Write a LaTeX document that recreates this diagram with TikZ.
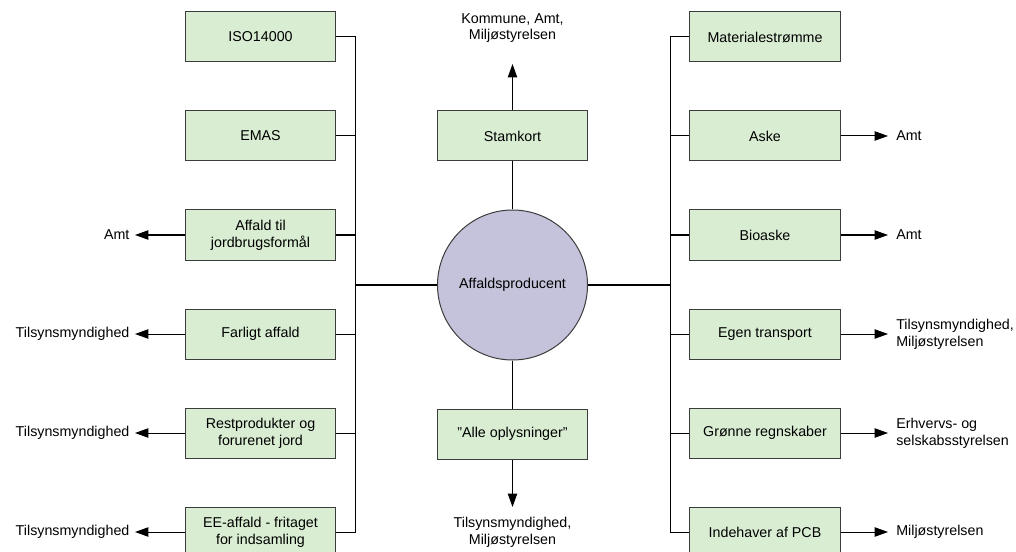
\documentclass[tikz,border=0pt]{standalone}
\usepackage{fontspec}
\setmainfont{Liberation Sans}
\usepackage{xcolor}
\usepackage{tikz}
\usetikzlibrary{arrows.meta}
\definecolor{boxgreen}{HTML}{D9EDD3}
\definecolor{hubviolet}{HTML}{C5C3DB}
\definecolor{edgegray}{HTML}{3C3C3C}

\begin{document}
\begin{tikzpicture}%
	[x=0.75pt, y=-0.75pt,
	font=\fontsize{10.7}{12.6}\selectfont,
	box/.style={draw=edgegray, fill=boxgreen, line width=0.75pt, minimum width=113pt, minimum height=37.5pt, inner sep=1pt, align=center},
	hub/.style={circle, draw=edgegray, fill=hubviolet, line width=0.75pt, minimum size=112.5pt, inner sep=0pt},
	link/.style={line width=0.75pt},
	trunk/.style={line width=1.5pt},
	arr/.style={line width=0.75pt, -{Triangle[length=10pt, width=7pt]}},
	labL/.style={anchor=east, inner xsep=4pt, inner ysep=0pt, align=right},
	labR/.style={anchor=west, inner xsep=6pt, inner ysep=0pt, align=left},
	labC/.style={align=center, inner sep=0pt}]
%
\useasboundingbox (0,0) rectangle (1016,552);
\clip (0,0) rectangle (1016,552);
%
%% Centre
\node[hub] (hub) at (512.5,285) {Affaldsproducent};
\node[box] (stamkort) at (512.5,136) {Stamkort};
\node[box] (alle) at (512.5,434) {”Alle oplysninger”};
\coordinate (tipTop) at (512.5,64);
\coordinate (tipBot) at (512.5,507);
\node[labC] (myndTop) at (512.5,28) {Kommune, Amt,\\Miljøstyrelsen};
\node[labC] (myndBot) at (512.5,532) {Tilsynsmyndighed,\\Miljøstyrelsen};
%
%% Left column
\node[box] (iso) at (260.5,37) {ISO14000};
\node[box] (emas) at (260.5,136) {EMAS};
\node[box] (jord) at (260.5,235) {Affald til\\jordbrugsformål};
\node[box] (farligt) at (260.5,334) {Farligt affald};
\node[box] (rest) at (260.5,433) {Restprodukter og\\forurenet jord};
\node[box] (ee) at (260.5,532) {EE-affald - fritaget\\for indsamling};
\node[labL] (jordL) at (135,235) {Amt};
\node[labL] (farligtL) at (135,334) {Tilsynsmyndighed};
\node[labL] (restL) at (135,433) {Tilsynsmyndighed};
\node[labL] (eeL) at (135,532) {Tilsynsmyndighed};
\coordinate (busL) at (355,285);
%
%% Right column
\node[box] (materiale) at (765,37) {Materialestrømme};
\node[box] (aske) at (765,136) {Aske};
\node[box] (bioaske) at (765,235) {Bioaske};
\node[box] (transport) at (765,334) {Egen transport};
\node[box] (regnskab) at (765,433) {Grønne regnskaber};
\node[box] (pcb) at (765,532) {Indehaver af PCB};
\node[labR] (askeR) at (888,136) {Amt};
\node[labR] (bioaskeR) at (888,235) {Amt};
\node[labR] (transportR) at (888,334) {Tilsynsmyndighed,\\Miljøstyrelsen};
\node[labR] (regnskabR) at (888,433) {Erhvervs- og\\selskabsstyrelsen};
\node[labR] (pcbR) at (888,532) {Miljøstyrelsen};
\coordinate (busR) at (670,285);
%
%% Connectors, centre
\draw[arr] (stamkort) -- (tipTop);
\draw[arr] (alle) -- (tipBot);
\draw[link] (stamkort) -- (hub);
\draw[link] (hub) -- (alle);
\draw[trunk] (hub) -- (busL);
\draw[trunk] (hub) -- (busR);
%
%% Connectors, left
\draw[link] (iso.east) -| (busL);
\draw[link] (ee.east) -| (busL);
\draw[link] (emas.east) -- (emas.east -| busL);
\draw[link] (jord.east) -- (jord.east -| busL);
\draw[link] (farligt.east) -- (farligt.east -| busL);
\draw[link] (rest.east) -- (rest.east -| busL);
\draw[arr] (jord) -- (jordL);
\draw[arr] (farligt) -- (farligtL);
\draw[arr] (rest) -- (restL);
\draw[arr] (ee) -- (eeL);
%
%% Connectors, right
\draw[link] (materiale.west) -| (busR);
\draw[link] (pcb.west) -| (busR);
\draw[link] (aske.west) -- (aske.west -| busR);
\draw[link] (bioaske.west) -- (bioaske.west -| busR);
\draw[link] (transport.west) -- (transport.west -| busR);
\draw[link] (regnskab.west) -- (regnskab.west -| busR);
\draw[arr] (aske) -- (askeR);
\draw[arr] (bioaske) -- (bioaskeR);
\draw[arr] (transport) -- (transportR);
\draw[arr] (regnskab) -- (regnskabR);
\draw[arr] (pcb) -- (pcbR);
%
\end{tikzpicture}
\end{document}
